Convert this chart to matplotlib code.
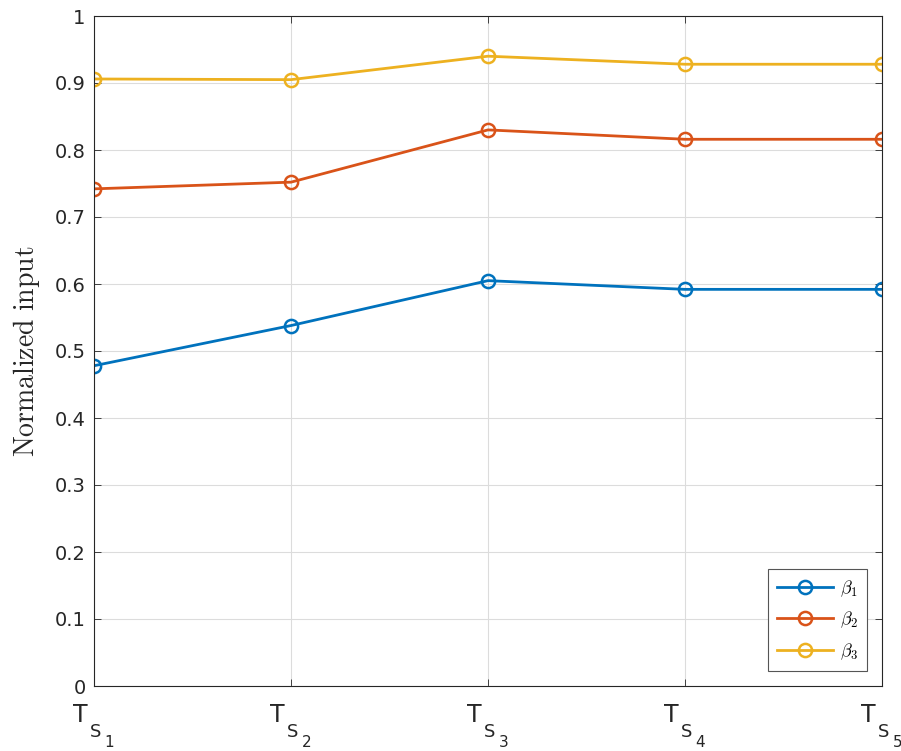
import matplotlib
matplotlib.use("Agg")
import matplotlib.pyplot as plt
from matplotlib.transforms import blended_transform_factory

tick_base = "T"
tick_sub = "S"
tick_index = ["1", "2", "3", "4", "5"]
beta1 = [0.478, 0.538, 0.605, 0.592, 0.592]
beta2 = [0.742, 0.752, 0.830, 0.816, 0.816]
beta3 = [0.906, 0.905, 0.940, 0.928, 0.928]
series_labels = [r"$\beta_1$", r"$\beta_2$", r"$\beta_3$"]
y_ticks = [i / 10 for i in range(11)]
y_ticklabels = ["0", "0.1", "0.2", "0.3", "0.4", "0.5", "0.6", "0.7", "0.8", "0.9", "1"]
colors = ["#0072BD", "#D95319", "#EDB120"]

fig = plt.figure(figsize=(9.01, 7.51), dpi=100)
ax = fig.add_axes([94/901, 65/751, 788/901, 670/751])

x = list(range(len(tick_index)))
for vals, lab, c in zip([beta1, beta2, beta3], series_labels, colors):
    ax.plot(x, vals, color=c, lw=2.0, marker="o", markersize=9.5,
            markerfacecolor="none", markeredgewidth=1.8, label=lab)

ax.set_xlim(0, 4)
ax.set_ylim(0, 1)
ax.set_yticks(y_ticks)
ax.set_yticklabels(y_ticklabels)
ax.set_xticks(x)
ax.tick_params(direction="in", top=True, right=True, colors="#262626",
               length=5, width=0.6)
ax.tick_params(axis="y", labelsize=14, pad=6)
ax.tick_params(axis="x", labelbottom=False)

# x tick labels: T with S subscript and index sub-subscript
trans = blended_transform_factory(ax.transData, ax.transAxes)
tc = "#262626"
for xi, idx in zip(x, tick_index):
    ax.annotate(tick_base, xy=(xi, 0), xycoords=trans, xytext=(-9.6, -25.9),
                textcoords="offset points", ha="center", va="baseline",
                fontsize=17, color=tc, annotation_clip=False)
    ax.annotate(tick_sub, xy=(xi, 0), xycoords=trans, xytext=(1.2, -36.9),
                textcoords="offset points", ha="center", va="baseline",
                fontsize=13, color=tc, annotation_clip=False)
    ax.annotate(idx, xy=(xi, 0), xycoords=trans, xytext=(11.0, -44.0),
                textcoords="offset points", ha="center", va="baseline",
                fontsize=11, color=tc, annotation_clip=False)

ax.grid(True, color="#dcdcdc", lw=0.8)
for s in ax.spines.values():
    s.set_color("#262626")
    s.set_linewidth(0.8)

ax.set_ylabel(r"$\mathrm{Normalized\ input}$", fontsize=20, color="#262626",
              math_fontfamily="cm", labelpad=9)

leg = ax.legend(loc="lower right", prop={"size": 13, "math_fontfamily": "cm"},
                fancybox=False, edgecolor="#555555", framealpha=1,
                borderaxespad=0.83, handlelength=3.1, labelspacing=0.62,
                borderpad=0.5, handletextpad=0.4)
leg.get_frame().set_linewidth(0.8)

fig.savefig("out.png", dpi=100)
